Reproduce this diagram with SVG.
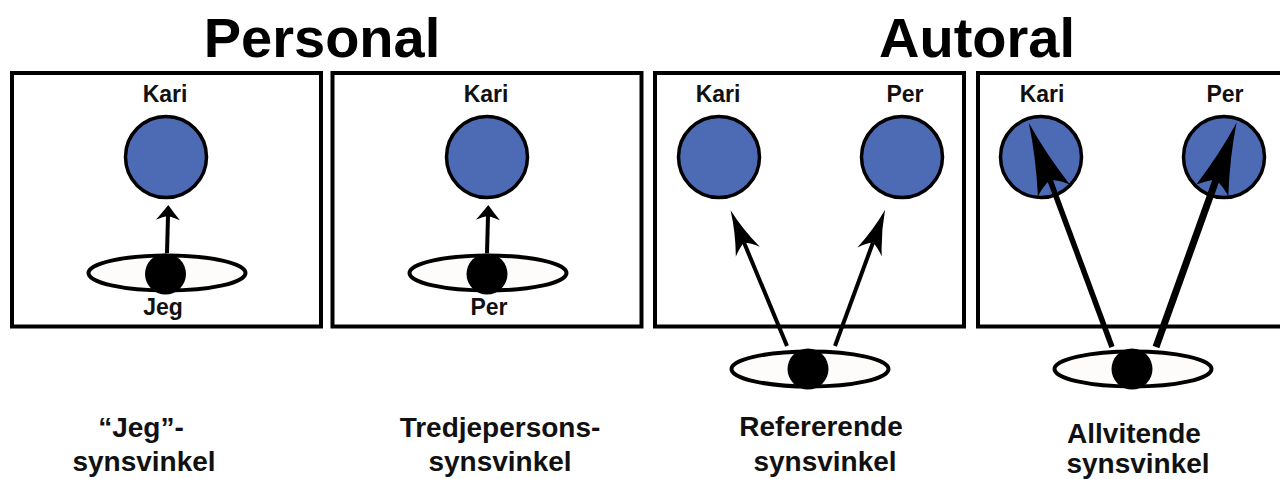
<svg xmlns="http://www.w3.org/2000/svg" width="1280" height="479" viewBox="0 0 1280 479">
<style>
text{font-family:"Liberation Sans",Arial,sans-serif;font-weight:700;fill:#111;text-anchor:middle}
.t{font-size:56px;fill:#000}
.n{font-size:23px}
.c{font-size:28px}
.box{fill:#fff;stroke:#000;stroke-width:4}
.p{fill:#4d6bb5;stroke:#000;stroke-width:3.5}
.eye{fill:#fdfcfa;stroke:#000;stroke-width:4}
.pupil{fill:#000}
.a{fill:none;stroke:#000}
</style>
<defs>
<marker id="m1" markerUnits="userSpaceOnUse" viewBox="-1 -13 17 26" refX="4" refY="0" markerWidth="17" markerHeight="26" orient="auto"><path d="M15,0Q7,-6 0,-12Q3,-5 4,0Q3,5 0,12Q7,6 15,0Z"/></marker>
<marker id="m2" markerUnits="userSpaceOnUse" viewBox="-1 -14 47 28" refX="10" refY="0" markerWidth="47" markerHeight="28" orient="auto"><path d="M45,0Q22,-4 0,-13Q7,-6 10,0Q7,6 0,13Q22,4 45,0Z"/></marker>
<marker id="m3" markerUnits="userSpaceOnUse" viewBox="-1 -19 74 38" refX="11" refY="0" markerWidth="74" markerHeight="38" orient="auto"><path d="M72,0Q38,-5 0,-17Q8,-8 11,0Q8,8 0,17Q38,5 72,0Z"/></marker>
</defs>
<g id="title-personal"><text class="t" x="322" y="57">Personal</text></g>
<g id="title-autoral"><text class="t" x="977" y="57">Autoral</text></g>
<g id="box1"><rect class="box" x="12" y="73" width="309" height="253.500"/></g>
<g id="box2"><rect class="box" x="332.500" y="73" width="309" height="253.500"/></g>
<g id="box3"><rect class="box" x="655" y="73" width="309" height="253.500"/></g>
<g id="box4"><rect class="box" x="978" y="73" width="320" height="253.500"/></g>
<g id="kari1"><text class="n" x="165" y="102">Kari</text><circle class="p" cx="166" cy="157" r="40.500"/></g>
<g id="kari2"><text class="n" x="486" y="102">Kari</text><circle class="p" cx="487" cy="157" r="40.500"/></g>
<g id="kari3"><text class="n" x="718" y="102">Kari</text><circle class="p" cx="719" cy="157" r="40.500"/></g>
<g id="per3"><text class="n" x="905" y="102">Per</text><circle class="p" cx="902" cy="157" r="40.500"/></g>
<g id="kari4"><text class="n" x="1042" y="102">Kari</text><circle class="p" cx="1041" cy="157" r="40.500"/></g>
<g id="per4"><text class="n" x="1225" y="102">Per</text><circle class="p" cx="1224" cy="157" r="40.500"/></g>
<g id="eye1"><ellipse class="eye" cx="167" cy="273" rx="78.500" ry="17.500"/><circle class="pupil" cx="165.500" cy="274" r="20.500"/><text class="n" x="163" y="315">Jeg</text></g>
<g id="eye2"><ellipse class="eye" cx="488" cy="273" rx="78.500" ry="17.500"/><circle class="pupil" cx="487" cy="274" r="20.500"/><text class="n" x="489" y="315">Per</text></g>
<g id="eye3"><ellipse class="eye" cx="810" cy="369" rx="78.500" ry="17.500"/><circle class="pupil" cx="808" cy="369" r="20.500"/></g>
<g id="eye4"><ellipse class="eye" cx="1133" cy="369" rx="78.500" ry="17.500"/><circle class="pupil" cx="1132" cy="369" r="20.500"/></g>
<g id="connectors">
<line class="a" stroke-width="4" x1="167" y1="253" x2="168" y2="216" marker-end="url(#m1)"/>
<line class="a" stroke-width="4" x1="487" y1="253" x2="488" y2="216" marker-end="url(#m1)"/>
<line class="a" stroke-width="4" x1="787" y1="346" x2="744" y2="242.500" marker-end="url(#m2)"/>
<line class="a" stroke-width="4" x1="835" y1="346" x2="873" y2="242.500" marker-end="url(#m2)"/>
<line class="a" stroke-width="5.500" x1="1112" y1="347" x2="1050" y2="180" marker-end="url(#m3)"/>
<line class="a" stroke-width="7" x1="1156" y1="347" x2="1216" y2="180" marker-end="url(#m3)"/>
</g>
<g id="cap1"><text class="c" x="141" y="437">“Jeg”-</text><text class="c" x="144" y="470.500">synsvinkel</text></g>
<g id="cap2"><text class="c" x="500" y="437">Tredjepersons-</text><text class="c" x="500" y="470.500">synsvinkel</text></g>
<g id="cap3"><text class="c" x="821" y="436">Refererende</text><text class="c" x="825" y="470.500">synsvinkel</text></g>
<g id="cap4"><text class="c" x="1134" y="442.500">Allvitende</text><text class="c" x="1138" y="472.500">synsvinkel</text></g>
</svg>
